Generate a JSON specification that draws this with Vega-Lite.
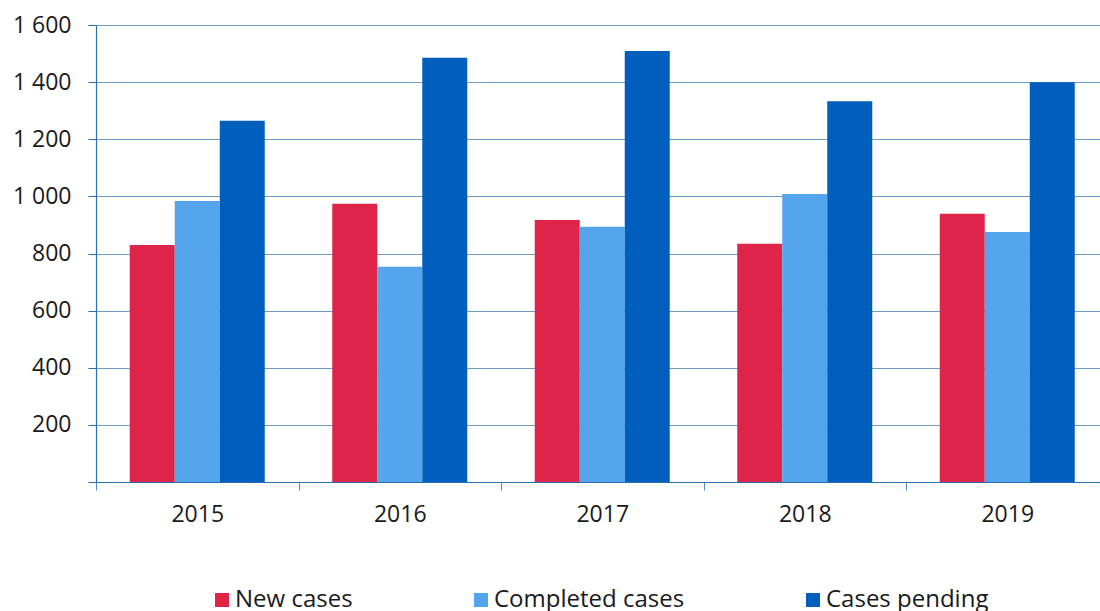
{
  "$schema": "https://vega.github.io/schema/vega-lite/v6.json",
  "width": 1004,
  "height": 457,
  "autosize": "none",
  "padding": {"left": 96, "top": 25, "right": 0, "bottom": 129},
  "background": "white",
  "config": {
    "font": "Open Sans",
    "view": {"stroke": null}
  },
  "data": {
    "values": [
      {"year": "2015", "series": "New cases", "value": 830},
      {"year": "2015", "series": "Completed cases", "value": 984},
      {"year": "2015", "series": "Cases pending", "value": 1265},
      {"year": "2016", "series": "New cases", "value": 974},
      {"year": "2016", "series": "Completed cases", "value": 754},
      {"year": "2016", "series": "Cases pending", "value": 1485},
      {"year": "2017", "series": "New cases", "value": 917},
      {"year": "2017", "series": "Completed cases", "value": 894},
      {"year": "2017", "series": "Cases pending", "value": 1509},
      {"year": "2018", "series": "New cases", "value": 834},
      {"year": "2018", "series": "Completed cases", "value": 1008},
      {"year": "2018", "series": "Cases pending", "value": 1333},
      {"year": "2019", "series": "New cases", "value": 939},
      {"year": "2019", "series": "Completed cases", "value": 875},
      {"year": "2019", "series": "Cases pending", "value": 1400}
    ]
  },
  "mark": {"type": "bar"},
  "encoding": {
    "x": {
      "field": "year",
      "type": "nominal",
      "scale": {"paddingInner": 0, "paddingOuter": 0, "range": [0, 1012.5]},
      "axis": {
        "title": null,
        "labelAngle": 0,
        "labelFontSize": 23,
        "labelColor": "#1a1a1a",
        "labelPadding": 13,
        "tickBand": "extent",
        "tickSize": 8,
        "tickColor": "#4f8fcf",
        "domainColor": "#2a6eb0",
        "domainWidth": 1.2,
        "grid": false
      }
    },
    "xOffset": {
      "field": "series",
      "type": "nominal",
      "sort": ["New cases", "Completed cases", "Cases pending"],
      "scale": {"paddingInner": 0, "paddingOuter": 0.75}
    },
    "y": {
      "field": "value",
      "type": "quantitative",
      "scale": {"domain": [0, 1600], "nice": false},
      "axis": {
        "title": null,
        "values": [0, 200, 400, 600, 800, 1000, 1200, 1400, 1600],
        "labelExpr": "datum.value == 0 ? '' : replace(format(datum.value, ','), ',', ' ')",
        "labelFontSize": 23,
        "labelColor": "#1a1a1a",
        "labelPadding": 17,
        "tickSize": 8,
        "tickColor": "#2a6eb0",
        "domainColor": "#2a6eb0",
        "domainWidth": 1.2,
        "gridColor": "#6e9dc4",
        "gridWidth": 1.2
      }
    },
    "color": {
      "field": "series",
      "type": "nominal",
      "sort": ["New cases", "Completed cases", "Cases pending"],
      "scale": {
        "domain": ["New cases", "Completed cases", "Cases pending"],
        "range": ["#de2549", "#54a5ec", "#005ebd"]
      },
      "legend": {
        "title": null,
        "orient": "none",
        "direction": "horizontal",
        "legendX": 114,
        "legendY": 563,
        "symbolType": "square",
        "symbolSize": 196,
        "symbolStrokeWidth": 0,
        "labelFontSize": 24,
        "labelLimit": 400,
        "labelColor": "#1a1a1a",
        "labelOffset": 1,
        "columnPadding": 116
      }
    }
  }
}
